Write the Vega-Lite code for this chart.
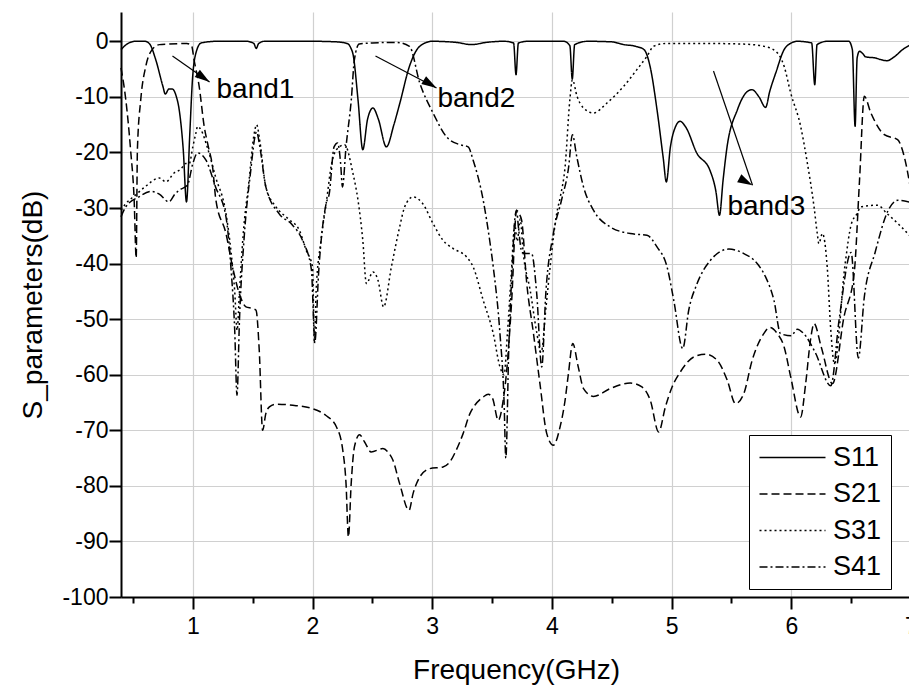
{
  "$schema": "https://vega.github.io/schema/vega-lite/v6.json",
  "width": 790,
  "height": 585,
  "autosize": {"type": "none"},
  "padding": {"left": 121, "top": 12, "right": 0, "bottom": 92},
  "config": {"font": "Liberation Sans", "view": {"stroke": null}},
  "datasets": {
    "curves": [
      {"s":"S11","f":0.40,"v":-1.5},{"s":"S11","f":0.45,"v":-0.5},{"s":"S11","f":0.52,"v":0},{"s":"S11","f":0.60,"v":0},{"s":"S11","f":0.64,"v":-0.5},{"s":"S11","f":0.69,"v":-3.3},{"s":"S11","f":0.75,"v":-8.1},{"s":"S11","f":0.77,"v":-9.5},{"s":"S11","f":0.80,"v":-8.6},{"s":"S11","f":0.83,"v":-8.6},{"s":"S11","f":0.86,"v":-9.8},{"s":"S11","f":0.886,"v":-12.3},{"s":"S11","f":0.92,"v":-19.5},{"s":"S11","f":0.947,"v":-28.9},{"s":"S11","f":0.975,"v":-16.5},{"s":"S11","f":0.997,"v":-6.9},{"s":"S11","f":1.026,"v":-2.1},{"s":"S11","f":1.07,"v":-0.3},{"s":"S11","f":1.2,"v":0},{"s":"S11","f":1.45,"v":0},{"s":"S11","f":1.51,"v":-0.4},{"s":"S11","f":1.53,"v":-1.3},{"s":"S11","f":1.55,"v":-0.4},{"s":"S11","f":1.6,"v":0},{"s":"S11","f":2.0,"v":0},{"s":"S11","f":2.2,"v":-0.1},{"s":"S11","f":2.29,"v":-0.4},{"s":"S11","f":2.32,"v":-1.2},{"s":"S11","f":2.34,"v":-2.5},{"s":"S11","f":2.38,"v":-10.5},{"s":"S11","f":2.42,"v":-19.5},{"s":"S11","f":2.46,"v":-14},{"s":"S11","f":2.505,"v":-12.0},{"s":"S11","f":2.55,"v":-14},{"s":"S11","f":2.617,"v":-19.0},{"s":"S11","f":2.68,"v":-15},{"s":"S11","f":2.73,"v":-11.1},{"s":"S11","f":2.81,"v":-4.5},{"s":"S11","f":2.896,"v":-0.9},{"s":"S11","f":3.0,"v":0},{"s":"S11","f":3.2,"v":-0.2},{"s":"S11","f":3.33,"v":-0.6},{"s":"S11","f":3.45,"v":-0.2},{"s":"S11","f":3.6,"v":0},{"s":"S11","f":3.68,"v":-0.3},{"s":"S11","f":3.70,"v":-6.0},{"s":"S11","f":3.72,"v":-0.3},{"s":"S11","f":3.8,"v":0},{"s":"S11","f":4.1,"v":0},{"s":"S11","f":4.15,"v":-0.8},{"s":"S11","f":4.17,"v":-6.8},{"s":"S11","f":4.19,"v":-0.6},{"s":"S11","f":4.3,"v":0},{"s":"S11","f":4.5,"v":-0.1},{"s":"S11","f":4.6,"v":-0.6},{"s":"S11","f":4.7,"v":-0.9},{"s":"S11","f":4.77,"v":-1.5},{"s":"S11","f":4.82,"v":-4.5},{"s":"S11","f":4.878,"v":-12.3},{"s":"S11","f":4.93,"v":-21},{"s":"S11","f":4.956,"v":-25.3},{"s":"S11","f":4.99,"v":-19},{"s":"S11","f":5.03,"v":-15.5},{"s":"S11","f":5.07,"v":-14.4},{"s":"S11","f":5.12,"v":-15.5},{"s":"S11","f":5.21,"v":-20.1},{"s":"S11","f":5.32,"v":-23.2},{"s":"S11","f":5.37,"v":-27},{"s":"S11","f":5.40,"v":-31.3},{"s":"S11","f":5.43,"v":-25},{"s":"S11","f":5.46,"v":-19.5},{"s":"S11","f":5.55,"v":-12.3},{"s":"S11","f":5.62,"v":-9.3},{"s":"S11","f":5.67,"v":-8.7},{"s":"S11","f":5.73,"v":-10},{"s":"S11","f":5.785,"v":-11.9},{"s":"S11","f":5.82,"v":-9},{"s":"S11","f":5.87,"v":-5.7},{"s":"S11","f":5.94,"v":-1.5},{"s":"S11","f":6.0,"v":-0.3},{"s":"S11","f":6.05,"v":0},{"s":"S11","f":6.17,"v":-0.3},{"s":"S11","f":6.196,"v":-7.8},{"s":"S11","f":6.215,"v":-0.6},{"s":"S11","f":6.3,"v":0},{"s":"S11","f":6.48,"v":0},{"s":"S11","f":6.51,"v":-1.5},{"s":"S11","f":6.533,"v":-15.3},{"s":"S11","f":6.55,"v":-3},{"s":"S11","f":6.57,"v":-1.8},{"s":"S11","f":6.6,"v":-2.3},{"s":"S11","f":6.62,"v":-2.8},{"s":"S11","f":6.7,"v":-3.0},{"s":"S11","f":6.75,"v":-3.3},{"s":"S11","f":6.8,"v":-3.5},{"s":"S11","f":6.86,"v":-2.8},{"s":"S11","f":6.93,"v":-1.5},{"s":"S11","f":7.0,"v":-0.6},

      {"s":"S21","f":0.40,"v":-4.8},{"s":"S21","f":0.44,"v":-10.5},{"s":"S21","f":0.48,"v":-19.5},{"s":"S21","f":0.51,"v":-28.6},{"s":"S21","f":0.527,"v":-39},{"s":"S21","f":0.537,"v":-19.5},{"s":"S21","f":0.565,"v":-10.5},{"s":"S21","f":0.607,"v":-4.5},{"s":"S21","f":0.66,"v":-1.5},{"s":"S21","f":0.72,"v":-0.6},{"s":"S21","f":0.8,"v":-0.5},{"s":"S21","f":0.95,"v":-0.4},{"s":"S21","f":0.99,"v":-0.8},{"s":"S21","f":1.01,"v":-3.3},{"s":"S21","f":1.053,"v":-8.1},{"s":"S21","f":1.095,"v":-15.3},{"s":"S21","f":1.13,"v":-19.0},{"s":"S21","f":1.165,"v":-22.6},{"s":"S21","f":1.193,"v":-28.6},{"s":"S21","f":1.277,"v":-34.6},{"s":"S21","f":1.332,"v":-40.6},{"s":"S21","f":1.388,"v":-45.4},{"s":"S21","f":1.444,"v":-47.8},{"s":"S21","f":1.5,"v":-48.1},{"s":"S21","f":1.528,"v":-48.4},{"s":"S21","f":1.555,"v":-55.6},{"s":"S21","f":1.583,"v":-70},{"s":"S21","f":1.61,"v":-67},{"s":"S21","f":1.64,"v":-65.8},{"s":"S21","f":1.695,"v":-65.3},{"s":"S21","f":1.835,"v":-65.5},{"s":"S21","f":2.0,"v":-66.1},{"s":"S21","f":2.11,"v":-67.3},{"s":"S21","f":2.2,"v":-69.4},{"s":"S21","f":2.253,"v":-73.6},{"s":"S21","f":2.28,"v":-79.6},{"s":"S21","f":2.30,"v":-89.2},{"s":"S21","f":2.323,"v":-79.6},{"s":"S21","f":2.35,"v":-73},{"s":"S21","f":2.393,"v":-70.8},{"s":"S21","f":2.435,"v":-72.1},{"s":"S21","f":2.49,"v":-73.9},{"s":"S21","f":2.588,"v":-73.3},{"s":"S21","f":2.63,"v":-73.9},{"s":"S21","f":2.672,"v":-75.4},{"s":"S21","f":2.728,"v":-79.6},{"s":"S21","f":2.806,"v":-84.4},{"s":"S21","f":2.84,"v":-81.4},{"s":"S21","f":2.896,"v":-78.4},{"s":"S21","f":2.98,"v":-76.9},{"s":"S21","f":3.09,"v":-76.6},{"s":"S21","f":3.147,"v":-75.7},{"s":"S21","f":3.2,"v":-73.6},{"s":"S21","f":3.258,"v":-70.6},{"s":"S21","f":3.315,"v":-67},{"s":"S21","f":3.356,"v":-65.5},{"s":"S21","f":3.426,"v":-64},{"s":"S21","f":3.468,"v":-63.5},{"s":"S21","f":3.505,"v":-64.3},{"s":"S21","f":3.552,"v":-68.2},{"s":"S21","f":3.593,"v":-64.6},{"s":"S21","f":3.62,"v":-59.8},{"s":"S21","f":3.664,"v":-46.6},{"s":"S21","f":3.705,"v":-30.4},{"s":"S21","f":3.725,"v":-31},{"s":"S21","f":3.747,"v":-32.2},{"s":"S21","f":3.79,"v":-43.6},{"s":"S21","f":3.846,"v":-52.6},{"s":"S21","f":3.9,"v":-61.6},{"s":"S21","f":3.957,"v":-70.6},{"s":"S21","f":4.012,"v":-72.7},{"s":"S21","f":4.068,"v":-69.4},{"s":"S21","f":4.11,"v":-64.6},{"s":"S21","f":4.138,"v":-59.8},{"s":"S21","f":4.174,"v":-54.4},{"s":"S21","f":4.22,"v":-58.6},{"s":"S21","f":4.264,"v":-62.5},{"s":"S21","f":4.347,"v":-63.9},{"s":"S21","f":4.487,"v":-62.5},{"s":"S21","f":4.655,"v":-61.5},{"s":"S21","f":4.752,"v":-62.2},{"s":"S21","f":4.822,"v":-64.6},{"s":"S21","f":4.892,"v":-70.3},{"s":"S21","f":4.948,"v":-65.8},{"s":"S21","f":5.004,"v":-62.2},{"s":"S21","f":5.073,"v":-59.5},{"s":"S21","f":5.185,"v":-56.8},{"s":"S21","f":5.283,"v":-56.3},{"s":"S21","f":5.381,"v":-57.4},{"s":"S21","f":5.465,"v":-61},{"s":"S21","f":5.534,"v":-65.2},{"s":"S21","f":5.603,"v":-63.4},{"s":"S21","f":5.673,"v":-57.4},{"s":"S21","f":5.77,"v":-52.6},{"s":"S21","f":5.82,"v":-51.5},{"s":"S21","f":5.883,"v":-52.6},{"s":"S21","f":5.94,"v":-55},{"s":"S21","f":5.995,"v":-60.4},{"s":"S21","f":6.078,"v":-67.6},{"s":"S21","f":6.12,"v":-61.6},{"s":"S21","f":6.16,"v":-53.8},{"s":"S21","f":6.19,"v":-50.8},{"s":"S21","f":6.25,"v":-55},{"s":"S21","f":6.344,"v":-61.6},{"s":"S21","f":6.44,"v":-49.6},{"s":"S21","f":6.525,"v":-41.8},{"s":"S21","f":6.57,"v":-25},{"s":"S21","f":6.61,"v":-9.9},{"s":"S21","f":6.665,"v":-12.9},{"s":"S21","f":6.777,"v":-16.8},{"s":"S21","f":6.888,"v":-17.7},{"s":"S21","f":6.944,"v":-20.8},{"s":"S21","f":7.0,"v":-27},

      {"s":"S31","f":0.4,"v":-30.4},{"s":"S31","f":0.44,"v":-29.2},{"s":"S31","f":0.52,"v":-27.7},{"s":"S31","f":0.6,"v":-26.2},{"s":"S31","f":0.72,"v":-24.6},{"s":"S31","f":0.775,"v":-25.3},{"s":"S31","f":0.843,"v":-23.7},{"s":"S31","f":0.9,"v":-23},{"s":"S31","f":0.94,"v":-22},{"s":"S31","f":0.97,"v":-22},{"s":"S31","f":1.0,"v":-19},{"s":"S31","f":1.026,"v":-16.5},{"s":"S31","f":1.04,"v":-15.3},{"s":"S31","f":1.07,"v":-16},{"s":"S31","f":1.12,"v":-19},{"s":"S31","f":1.19,"v":-24.4},{"s":"S31","f":1.277,"v":-31},{"s":"S31","f":1.32,"v":-38},{"s":"S31","f":1.35,"v":-45},{"s":"S31","f":1.37,"v":-52},{"s":"S31","f":1.39,"v":-45},{"s":"S31","f":1.42,"v":-35},{"s":"S31","f":1.47,"v":-25},{"s":"S31","f":1.51,"v":-17},{"s":"S31","f":1.533,"v":-15},{"s":"S31","f":1.56,"v":-18},{"s":"S31","f":1.61,"v":-26.2},{"s":"S31","f":1.695,"v":-29.8},{"s":"S31","f":1.8,"v":-32},{"s":"S31","f":1.89,"v":-34},{"s":"S31","f":1.947,"v":-37.6},{"s":"S31","f":2.0,"v":-40.6},{"s":"S31","f":2.016,"v":-54.4},{"s":"S31","f":2.03,"v":-45},{"s":"S31","f":2.07,"v":-36},{"s":"S31","f":2.114,"v":-29.2},{"s":"S31","f":2.16,"v":-22},{"s":"S31","f":2.2,"v":-19.5},{"s":"S31","f":2.268,"v":-18.6},{"s":"S31","f":2.337,"v":-23.7},{"s":"S31","f":2.38,"v":-28.6},{"s":"S31","f":2.42,"v":-35.8},{"s":"S31","f":2.45,"v":-43.6},{"s":"S31","f":2.505,"v":-41.5},{"s":"S31","f":2.547,"v":-43},{"s":"S31","f":2.594,"v":-47.8},{"s":"S31","f":2.659,"v":-40.6},{"s":"S31","f":2.728,"v":-33.4},{"s":"S31","f":2.77,"v":-29.8},{"s":"S31","f":2.84,"v":-28.0},{"s":"S31","f":2.92,"v":-29.2},{"s":"S31","f":3.007,"v":-32.8},{"s":"S31","f":3.09,"v":-35.8},{"s":"S31","f":3.175,"v":-37.3},{"s":"S31","f":3.287,"v":-38.8},{"s":"S31","f":3.342,"v":-40.6},{"s":"S31","f":3.426,"v":-46.6},{"s":"S31","f":3.51,"v":-52.6},{"s":"S31","f":3.566,"v":-58.6},{"s":"S31","f":3.6,"v":-60},{"s":"S31","f":3.63,"v":-52},{"s":"S31","f":3.66,"v":-42},{"s":"S31","f":3.69,"v":-33},{"s":"S31","f":3.71,"v":-36},{"s":"S31","f":3.735,"v":-32},{"s":"S31","f":3.76,"v":-38},{"s":"S31","f":3.82,"v":-45},{"s":"S31","f":3.87,"v":-52},{"s":"S31","f":3.91,"v":-56},{"s":"S31","f":3.95,"v":-48},{"s":"S31","f":3.985,"v":-40.6},{"s":"S31","f":4.04,"v":-31},{"s":"S31","f":4.07,"v":-28},{"s":"S31","f":4.11,"v":-22.6},{"s":"S31","f":4.15,"v":-10.5},{"s":"S31","f":4.171,"v":-6.9},{"s":"S31","f":4.21,"v":-9.9},{"s":"S31","f":4.264,"v":-12},{"s":"S31","f":4.347,"v":-12.9},{"s":"S31","f":4.46,"v":-11.1},{"s":"S31","f":4.6,"v":-8.1},{"s":"S31","f":4.71,"v":-5.1},{"s":"S31","f":4.794,"v":-2.7},{"s":"S31","f":4.85,"v":-0.9},{"s":"S31","f":4.95,"v":-0.4},{"s":"S31","f":5.3,"v":-0.4},{"s":"S31","f":5.6,"v":-0.5},{"s":"S31","f":5.77,"v":-0.9},{"s":"S31","f":5.87,"v":-1.8},{"s":"S31","f":5.94,"v":-4.5},{"s":"S31","f":5.995,"v":-9.3},{"s":"S31","f":6.078,"v":-15.3},{"s":"S31","f":6.13,"v":-21.4},{"s":"S31","f":6.19,"v":-29.8},{"s":"S31","f":6.217,"v":-34.6},{"s":"S31","f":6.23,"v":-36.4},{"s":"S31","f":6.26,"v":-34.6},{"s":"S31","f":6.3,"v":-40.6},{"s":"S31","f":6.33,"v":-52},{"s":"S31","f":6.36,"v":-58},{"s":"S31","f":6.45,"v":-40},{"s":"S31","f":6.5,"v":-33},{"s":"S31","f":6.55,"v":-31},{"s":"S31","f":6.58,"v":-29.8},{"s":"S31","f":6.72,"v":-29.5},{"s":"S31","f":6.8,"v":-31},{"s":"S31","f":6.9,"v":-33},{"s":"S31","f":7.0,"v":-35.2},

      {"s":"S41","f":0.4,"v":-31.6},{"s":"S41","f":0.44,"v":-29.8},{"s":"S41","f":0.55,"v":-28},{"s":"S41","f":0.65,"v":-27},{"s":"S41","f":0.72,"v":-27.5},{"s":"S41","f":0.8,"v":-28.9},{"s":"S41","f":0.85,"v":-27.5},{"s":"S41","f":0.886,"v":-26.8},{"s":"S41","f":0.955,"v":-25.9},{"s":"S41","f":1.0,"v":-22},{"s":"S41","f":1.04,"v":-20.1},{"s":"S41","f":1.11,"v":-21.4},{"s":"S41","f":1.19,"v":-26.2},{"s":"S41","f":1.277,"v":-31.6},{"s":"S41","f":1.318,"v":-40.6},{"s":"S41","f":1.35,"v":-52},{"s":"S41","f":1.369,"v":-63.7},{"s":"S41","f":1.39,"v":-50},{"s":"S41","f":1.43,"v":-35},{"s":"S41","f":1.48,"v":-24},{"s":"S41","f":1.533,"v":-16.3},{"s":"S41","f":1.56,"v":-19},{"s":"S41","f":1.61,"v":-26.2},{"s":"S41","f":1.72,"v":-31},{"s":"S41","f":1.83,"v":-33},{"s":"S41","f":1.92,"v":-36},{"s":"S41","f":1.99,"v":-41},{"s":"S41","f":2.02,"v":-54},{"s":"S41","f":2.05,"v":-42},{"s":"S41","f":2.114,"v":-29.2},{"s":"S41","f":2.14,"v":-27.4},{"s":"S41","f":2.18,"v":-19},{"s":"S41","f":2.21,"v":-18.3},{"s":"S41","f":2.235,"v":-22},{"s":"S41","f":2.25,"v":-26.2},{"s":"S41","f":2.28,"v":-19},{"s":"S41","f":2.324,"v":-10.5},{"s":"S41","f":2.35,"v":-3.3},{"s":"S41","f":2.39,"v":-0.5},{"s":"S41","f":2.5,"v":-0.3},{"s":"S41","f":2.7,"v":-0.2},{"s":"S41","f":2.81,"v":-0.9},{"s":"S41","f":2.896,"v":-7.5},{"s":"S41","f":3.007,"v":-12.9},{"s":"S41","f":3.12,"v":-17.2},{"s":"S41","f":3.23,"v":-18.6},{"s":"S41","f":3.3,"v":-19},{"s":"S41","f":3.342,"v":-21.4},{"s":"S41","f":3.426,"v":-28.6},{"s":"S41","f":3.48,"v":-35.8},{"s":"S41","f":3.51,"v":-40.6},{"s":"S41","f":3.566,"v":-52.6},{"s":"S41","f":3.6,"v":-64.6},{"s":"S41","f":3.615,"v":-75},{"s":"S41","f":3.64,"v":-55},{"s":"S41","f":3.67,"v":-40},{"s":"S41","f":3.69,"v":-32},{"s":"S41","f":3.705,"v":-30.4},{"s":"S41","f":3.72,"v":-33.4},{"s":"S41","f":3.75,"v":-38},{"s":"S41","f":3.79,"v":-38.2},{"s":"S41","f":3.83,"v":-38.2},{"s":"S41","f":3.873,"v":-45.4},{"s":"S41","f":3.915,"v":-58.6},{"s":"S41","f":3.95,"v":-45},{"s":"S41","f":4.012,"v":-34.6},{"s":"S41","f":4.08,"v":-28.6},{"s":"S41","f":4.14,"v":-22.6},{"s":"S41","f":4.171,"v":-16.8},{"s":"S41","f":4.208,"v":-20.8},{"s":"S41","f":4.264,"v":-26.2},{"s":"S41","f":4.347,"v":-30.4},{"s":"S41","f":4.487,"v":-33.4},{"s":"S41","f":4.655,"v":-34.6},{"s":"S41","f":4.794,"v":-34.9},{"s":"S41","f":4.878,"v":-37},{"s":"S41","f":4.962,"v":-40.6},{"s":"S41","f":5.018,"v":-46.6},{"s":"S41","f":5.093,"v":-55.3},{"s":"S41","f":5.143,"v":-48.4},{"s":"S41","f":5.213,"v":-43.6},{"s":"S41","f":5.325,"v":-39.4},{"s":"S41","f":5.478,"v":-37.4},{"s":"S41","f":5.603,"v":-38.2},{"s":"S41","f":5.715,"v":-40},{"s":"S41","f":5.785,"v":-42.4},{"s":"S41","f":5.855,"v":-46.6},{"s":"S41","f":5.91,"v":-52.6},{"s":"S41","f":6.0,"v":-53},{"s":"S41","f":6.05,"v":-51.8},{"s":"S41","f":6.1,"v":-52.5},{"s":"S41","f":6.2,"v":-56},{"s":"S41","f":6.33,"v":-62},{"s":"S41","f":6.4,"v":-50},{"s":"S41","f":6.5,"v":-38},{"s":"S41","f":6.56,"v":-57},{"s":"S41","f":6.61,"v":-46},{"s":"S41","f":6.7,"v":-38},{"s":"S41","f":6.81,"v":-30.4},{"s":"S41","f":6.89,"v":-28.6},{"s":"S41","f":7.0,"v":-29}
    ],
    "notes": [
      {"label":"band1","x0":0.83,"y0":-2.65,"x1":1.14,"y1":-7.32,"tx":1.198,"ty":-10.2},
      {"label":"band2","x0":2.526,"y0":-2.65,"x1":3.036,"y1":-8.4,"tx":3.044,"ty":-11.8},
      {"label":"band3","x0":5.35,"y0":-5.34,"x1":5.676,"y1":-25.9,"tx":5.466,"ty":-31.3}
    ]
  },
  "layer": [
    {
      "data": {"name": "curves"},
      "mark": {"type": "line", "color": "black", "strokeWidth": 1.5, "interpolate": "monotone"},
      "encoding": {
        "x": {
          "field": "f", "type": "quantitative",
          "scale": {"domain": [0.4, 7], "nice": false, "zero": false},
          "axis": {
            "title": "Frequency(GHz)",
            "values": [0.5,1,1.5,2,2.5,3,3.5,4,4.5,5,5.5,6,6.5,7],
            "labelExpr": "datum.value % 1 ? '' : '' + datum.value",
            "tickSize": {"condition": {"test": "datum.value % 1 !== 0", "value": 6}, "value": 12},
            "gridOpacity": {"condition": {"test": "datum.value % 1 !== 0", "value": 0}, "value": 1},
            "grid": true, "gridColor": "#d0d0d0", "gridWidth": 1.2,
            "domainColor": "black", "domainWidth": 2,
            "tickColor": "black", "tickWidth": 2,
            "labelFontSize": 23, "labelColor": "black", "labelPadding": 6,
            "labelFlush": false, "labelOverlap": false, "labelBound": false,
            "titleFontSize": 28, "titleFontWeight": "normal", "titleColor": "black", "titlePadding": 18
          }
        },
        "y": {
          "field": "v", "type": "quantitative",
          "scale": {"domain": [-100, 5.27], "nice": false, "zero": false},
          "axis": {
            "title": "S_parameters(dB)",
            "values": [-100,-95,-90,-85,-80,-75,-70,-65,-60,-55,-50,-45,-40,-35,-30,-25,-20,-15,-10,-5,0],
            "labelExpr": "datum.value % 10 ? '' : '' + datum.value",
            "tickSize": {"condition": {"test": "datum.value % 10 !== 0", "value": 7}, "value": 12},
            "gridOpacity": {"condition": {"test": "datum.value % 10 !== 0", "value": 0}, "value": 1},
            "grid": true, "gridColor": "#d0d0d0", "gridWidth": 1.2,
            "domainColor": "black", "domainWidth": 2,
            "tickColor": "black", "tickWidth": 2,
            "labelFontSize": 23, "labelColor": "black", "labelPadding": 1,
            "labelOverlap": false, "labelFlush": false, "labelBound": false,
            "titleFontSize": 28, "titleFontWeight": "normal", "titleColor": "black", "titlePadding": 14
          }
        },
        "strokeDash": {
          "field": "s", "type": "nominal",
          "scale": {"domain": ["S11","S21","S31","S41"], "range": [[1,0],[8,4],[2,3],[8,3,2,3]]},
          "legend": {
            "title": null, "orient": "none", "legendX": 628, "legendY": 423,
            "symbolType": "M-3,0L3,0", "symbolSize": 484, "symbolOffset": 21, "symbolStrokeWidth": 1.5, "symbolStrokeColor": "black",
            "labelFontSize": 27, "labelColor": "black", "labelOffset": 27,
            "rowPadding": 8.5, "padding": 9,
            "strokeColor": "black", "fillColor": "white", "cornerRadius": 0
          }
        }
      }
    },
    {
      "data": {"name": "notes"},
      "mark": {"type": "rule", "color": "black", "strokeWidth": 1.2},
      "encoding": {
        "x": {"field": "x0", "type": "quantitative"},
        "y": {"field": "y0", "type": "quantitative"},
        "x2": {"field": "x1"},
        "y2": {"field": "y1"}
      }
    },
    {
      "data": {"name": "notes"},
      "mark": {"type": "point", "shape": "M0,0L-0.6,2L0.6,2Z", "filled": true, "color": "black", "opacity": 1, "size": 225},
      "encoding": {
        "x": {"field": "x1", "type": "quantitative"},
        "y": {"field": "y1", "type": "quantitative"},
        "angle": {"field": "label", "type": "nominal", "scale": {"domain": ["band1","band2","band3"], "range": [125, 117.7, 161]}, "legend": null}
      }
    },
    {
      "data": {"name": "notes"},
      "mark": {"type": "text", "align": "left", "baseline": "alphabetic", "fontSize": 28, "color": "black", "font": "Liberation Sans"},
      "encoding": {
        "x": {"field": "tx", "type": "quantitative"},
        "y": {"field": "ty", "type": "quantitative"},
        "text": {"field": "label"}
      }
    }
  ]
}
